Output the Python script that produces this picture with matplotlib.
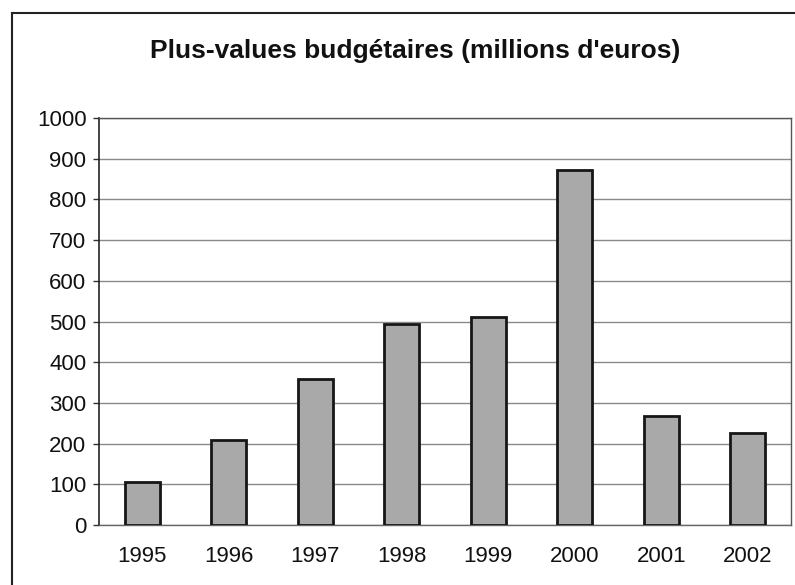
import matplotlib
matplotlib.use("Agg")
import matplotlib.pyplot as plt
from matplotlib.lines import Line2D

years = ["1995", "1996", "1997", "1998", "1999", "2000", "2001", "2002"]
values = [106, 209, 359, 493, 511, 872, 268, 227]
yticks = [0, 100, 200, 300, 400, 500, 600, 700, 800, 900, 1000]
title = "Plus-values budgétaires (millions d'euros)"

plt.rcParams['font.family'] = ['Liberation Sans', 'DejaVu Sans']

W, H = 795, 585
fig = plt.figure(figsize=(W / 100, H / 100), dpi=100)
fig.patch.set_facecolor("white")

left, right, top, bottom = 99, 791, 118, 525
ax = fig.add_axes([left / W, 1 - bottom / H, (right - left) / W, (bottom - top) / H])

x = list(range(len(years)))
ax.bar(x, values, width=0.41, color="#a9a9a9", edgecolor="#161616", linewidth=2.0, zorder=3)

ax.set_xlim(-0.5, len(years) - 0.5)
ax.set_ylim(0, 1000)
ax.set_yticks(yticks)
ax.set_yticklabels([str(t) for t in yticks], fontsize=16, color="#111111")
ax.set_xticks(x)
ax.set_xticklabels(years, fontsize=16, color="#111111")
ax.tick_params(axis="x", length=0, pad=15)
ax.tick_params(axis="y", length=4, width=1, color="#333333", pad=5, direction="out")

ax.grid(axis="y", color="#8a8a8a", linewidth=1.0, zorder=0)
ax.set_axisbelow(True)

ax.spines["left"].set_color("#222222")
ax.spines["left"].set_linewidth(1.2)
for s in ["top", "right", "bottom"]:
    ax.spines[s].set_color("#555555")
    ax.spines[s].set_linewidth(1.0)
    ax.spines[s].set_linestyle((0, (1, 1)))
ax.spines["bottom"].set_linestyle("-")
ax.spines["bottom"].set_color("#666666")

fig.text(415 / W, 1 - 51 / H, title, ha="center", va="center",
         fontsize=19, fontweight="bold", color="#111111")

# outer chart border (cropped at right/bottom)
fig.add_artist(Line2D([12 / W, 1.0], [1 - 13 / H, 1 - 13 / H], transform=fig.transFigure,
                      color="#222222", linewidth=1.5))
fig.add_artist(Line2D([12 / W, 12 / W], [1 - 13 / H, 0.0], transform=fig.transFigure,
                      color="#222222", linewidth=1.5))

fig.savefig("out.png", dpi=100)
